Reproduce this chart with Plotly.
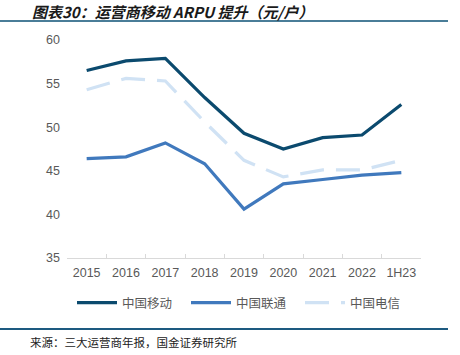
import plotly.graph_objects as go

categories = ["2015", "2016", "2017", "2018", "2019", "2020", "2021", "2022", "1H23"]
mobile = [56.5, 57.6, 57.9, 53.4, 49.3, 47.5, 48.8, 49.1, 52.6]
unicom = [46.4, 46.6, 48.2, 45.8, 40.6, 43.5, 44.0, 44.5, 44.8]
telecom = [54.3, 55.6, 55.3, 50.6, 46.2, 44.3, 45.1, 45.1, 46.2]
yticks = [35, 40, 45, 50, 55, 60]

W, H = 460, 355
L, R, T, B = 67, 39, 40, 97
pw = W - L - R
ph = H - T - B

def px2paper_x(x):
    return (x - L) / pw

def px2paper_y(y):
    return (H - B - y) / ph

fig = go.Figure()
fig.add_trace(go.Scatter(x=categories, y=mobile, name="中国移动", mode="lines",
                         line=dict(color="#0b4a6e", width=3.2)))
fig.add_trace(go.Scatter(x=categories, y=unicom, name="中国联通", mode="lines",
                         line=dict(color="#4079bd", width=3.2)))
fig.add_trace(go.Scatter(x=categories, y=telecom, name="中国电信", mode="lines",
                         line=dict(color="#d0e2f4", width=3.2, dash="24px,12px")))

font = "Liberation Sans, Arial, Noto Sans CJK SC, sans-serif"
cjk = "Noto Sans CJK SC, sans-serif"

fig.update_layout(
    width=W, height=H,
    margin=dict(l=L, r=R, t=T, b=B),
    paper_bgcolor="white", plot_bgcolor="white",
    showlegend=True,
    legend=dict(orientation="h", x=px2paper_x(243), xanchor="center", y=px2paper_y(303), yanchor="middle",
                font=dict(family=cjk, size=12.5, color="#595959"),
                itemwidth=40, tracegroupgap=0, entrywidth=59, entrywidthmode="pixels"),
    xaxis=dict(type="category", showgrid=False, showline=True, linecolor="#d9d9d9", linewidth=1,
               ticks="inside", ticklen=4, tickcolor="#d9d9d9", tickson="boundaries",
               tickfont=dict(family=font, size=12.5, color="#595959"),
               ticklabelstandoff=3, range=[-0.5, 8.5], fixedrange=True),
    yaxis=dict(range=[35, 60], tickvals=yticks, showgrid=False, showline=False, zeroline=False,
               ticks="", tickfont=dict(family=font, size=12.5, color="#595959"),
               ticklabelstandoff=6, fixedrange=True),
    shapes=[
        dict(type="line", xref="paper", yref="paper", x0=px2paper_x(0), x1=px2paper_x(448),
             y0=px2paper_y(21), y1=px2paper_y(21), line=dict(color="#4a7d98", width=2)),
        dict(type="line", xref="paper", yref="paper", x0=px2paper_x(0), x1=px2paper_x(448),
             y0=px2paper_y(329), y1=px2paper_y(329), line=dict(color="#1d5a80", width=2)),
    ],
    annotations=[
        dict(text="<b><i>图表30：运营商移动 ARPU 提升（元/户）</i></b>", xref="paper", yref="paper",
             x=px2paper_x(30), y=px2paper_y(11), xanchor="left", yanchor="middle", showarrow=False,
             font=dict(family=cjk, size=15, color="#1a1a1a")),
        dict(text="来源：三大运营商年报，国金证券研究所", xref="paper", yref="paper",
             x=px2paper_x(28), y=px2paper_y(342), xanchor="left", yanchor="middle", showarrow=False,
             font=dict(family=cjk, size=11.5, color="#222222")),
    ],
)

fig.write_html("out.html", config={"displayModeBar": False},
               post_script="document.body.style.margin='0';document.body.style.overflow='hidden';")
